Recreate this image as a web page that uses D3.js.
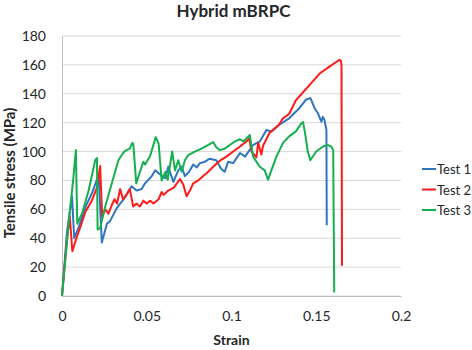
<!DOCTYPE html>
<html>
<head>
<meta charset="utf-8">
<script src="https://d3js.org/d3.v7.min.js"></script>
<style>
  body { margin: 0; background: #fff; }
  text { font-family: Lato, "Open Sans", sans-serif; fill: #262626; }
</style>
</head>
<body>
<div id="my_dataviz"></div>
<script>
// data
var seriesNames = ["Test 1", "Test 2", "Test 3"];
var seriesColors = ["#2e75c0", "#ff1a1a", "#14b04f"];
var xTicks = [0, 0.05, 0.1, 0.15, 0.2];
var yTicks = [0, 20, 40, 60, 80, 100, 120, 140, 160, 180];

var test1Strain = [0, 0.003, 0.0059, 0.0072, 0.010, 0.014, 0.018, 0.0216, 0.0235, 0.0265, 0.0284, 0.0324, 0.037, 0.039, 0.041, 0.044, 0.047, 0.049, 0.053, 0.055, 0.057, 0.059, 0.061, 0.0627, 0.0657, 0.0686, 0.0706, 0.0725, 0.075, 0.0774, 0.0795, 0.0814, 0.0843, 0.087, 0.091, 0.094, 0.096, 0.098, 0.101, 0.105, 0.108, 0.1127, 0.1167, 0.1206, 0.1235, 0.128, 0.134, 0.140, 0.144, 0.1466, 0.149, 0.151, 0.153, 0.1539, 0.1548, 0.156, 0.1562];
var test1Stress = [0, 45, 69, 40, 48, 62, 72, 84, 37, 50, 52, 61, 68, 72, 76, 73, 74, 78, 83, 87, 85, 83, 81.5, 89.5, 79, 87, 89.5, 83, 86, 91, 89, 92, 93, 95, 94, 88, 86, 93, 92, 99, 96.5, 104.5, 107, 115, 113.7, 118.4, 123, 130, 136, 137, 130, 126.5, 120.7, 124, 122, 115, 49];

var test2Strain = [0, 0.003, 0.0046, 0.0061, 0.0088, 0.0115, 0.0137, 0.0176, 0.0206, 0.0225, 0.0237, 0.0255, 0.0274, 0.0294, 0.031, 0.0325, 0.0343, 0.036, 0.038, 0.040, 0.042, 0.044, 0.046, 0.048, 0.050, 0.052, 0.054, 0.057, 0.0588, 0.060, 0.0627, 0.066, 0.0696, 0.0716, 0.0735, 0.0755, 0.0774, 0.0804, 0.0833, 0.0853, 0.0892, 0.093, 0.097, 0.101, 0.105, 0.1088, 0.1105, 0.1118, 0.1147, 0.1157, 0.1176, 0.1186, 0.1225, 0.128, 0.1304, 0.134, 0.138, 0.146, 0.152, 0.158, 0.1618, 0.1637, 0.1645, 0.1649, 0.1652];
var test2Stress = [0, 40, 55, 31, 41, 50, 58, 66, 75, 90, 55, 60, 57, 63, 67, 64, 74, 67, 70, 74, 62, 64, 62, 66, 64, 66, 64, 67, 72, 70, 73, 75, 81, 77, 69, 73, 78, 80, 83, 85, 89.5, 93.5, 96.5, 100, 103.5, 107, 109, 100, 96, 106, 98, 104, 113, 118.5, 123, 126, 135.5, 146, 154, 159, 162, 163.5, 163, 160, 21];

var test3Strain = [0, 0.0039, 0.0068, 0.0082, 0.009, 0.0118, 0.0157, 0.0196, 0.0206, 0.021, 0.0225, 0.0255, 0.0294, 0.0333, 0.036, 0.038, 0.040, 0.0415, 0.0421, 0.0438, 0.046, 0.048, 0.049, 0.052, 0.0553, 0.057, 0.0588, 0.061, 0.0624, 0.065, 0.0667, 0.0686, 0.0706, 0.0725, 0.0745, 0.0784, 0.0823, 0.0853, 0.0892, 0.091, 0.093, 0.096, 0.099, 0.102, 0.105, 0.107, 0.1108, 0.1127, 0.1147, 0.1167, 0.1196, 0.1216, 0.1235, 0.1265, 0.1304, 0.134, 0.138, 0.1412, 0.1422, 0.1435, 0.145, 0.1465, 0.150, 0.154, 0.157, 0.1588, 0.160, 0.1606];
var test3Stress = [0, 50, 83, 101, 50, 57, 73, 94, 95.5, 46, 47, 62, 78, 94, 99, 101, 102, 106, 105, 78, 86, 93, 91, 97, 110, 105.5, 80, 86, 80.5, 100, 87, 94, 86, 94, 97.5, 100, 102, 104, 106.5, 103, 101, 102, 104.5, 107, 108.5, 107, 111.5, 96.5, 93, 89.5, 87, 80.5, 87, 96.5, 106, 110.5, 114, 119.5, 120.5, 112, 100, 94, 100, 103.5, 104.5, 103.5, 101, 2.5];

var allStrain = [test1Strain, test2Strain, test3Strain];
var allStress = [test1Stress, test2Stress, test3Stress];

// set the dimensions and margins of the graph
var margin = {top: 36, right: 71, bottom: 54, left: 62},
    width = 472 - margin.left - margin.right,
    height = 350 - margin.top - margin.bottom;

var svg = d3.select("#my_dataviz")
  .append("svg")
    .attr("width", 472)
    .attr("height", 350)
  .append("g")
    .attr("transform", "translate(" + margin.left + "," + margin.top + ")");

var x = d3.scaleLinear()
  .domain([0, 0.2])
  .range([0, width]);

var y = d3.scaleLinear()
  .domain([0, 180])
  .range([height, 0]);

// gridlines
svg.append("g")
  .selectAll("line")
  .data(yTicks)
  .enter()
  .append("line")
    .attr("x1", 0)
    .attr("x2", width)
    .attr("y1", function(d) { return y(d) })
    .attr("y2", function(d) { return y(d) })
    .attr("stroke", "#d9d9d9")
    .attr("stroke-width", 1);

// Add X axis
var xAxis = svg.append("g")
  .attr("transform", "translate(0," + height + ")")
  .call(d3.axisBottom(x)
    .tickValues(xTicks)
    .tickSize(0)
    .tickPadding(15)
    .tickFormat(function(d) { return d3.format("")(+d.toFixed(2)) }));
xAxis.select(".domain").attr("stroke", "#bfbfbf");
xAxis.selectAll("text").style("font-size", "14px").style("font-family", "Lato").attr("fill", "#333");

// Add Y axis
var yAxis = svg.append("g")
  .call(d3.axisLeft(y)
    .tickValues(yTicks)
    .tickSize(0)
    .tickPadding(16));
yAxis.select(".domain").attr("stroke", "#bfbfbf");
yAxis.selectAll("text").style("font-size", "14px").style("font-family", "Lato").attr("fill", "#333");

// the lines
var line = d3.line()
  .x(function(d) { return x(d[0]) })
  .y(function(d) { return y(d[1]) });

seriesNames.forEach(function(name, i) {
  var pts = d3.zip(allStrain[i], allStress[i]);
  svg.append("path")
    .datum(pts)
    .attr("fill", "none")
    .attr("stroke", seriesColors[i])
    .attr("stroke-width", 2)
    .attr("stroke-linejoin", "round")
    .attr("d", line);
});

// title
svg.append("text")
  .attr("x", width / 2 + 2)
  .attr("y", -19)
  .attr("text-anchor", "middle")
  .style("font-size", "17px")
  .style("font-weight", "bold")
  .text("Hybrid mBRPC");

svg.append("text")
  .attr("x", width / 2)
  .attr("y", height + 49)
  .attr("text-anchor", "middle")
  .style("font-size", "14px")
  .style("font-weight", "bold")
  .text("Strain");

svg.append("text")
  .attr("transform", "rotate(-90)")
  .attr("x", -(height / 2) - 7)
  .attr("y", -47)
  .attr("text-anchor", "middle")
  .style("font-size", "15px")
  .style("font-weight", "bold")
  .text("Tensile stress (MPa)");

// legend
var legend = svg.append("g")
  .attr("transform", "translate(" + (width + 21) + "," + (133) + ")");
seriesNames.forEach(function(name, i) {
  legend.append("line")
    .attr("x1", 0)
    .attr("x2", 14)
    .attr("y1", i * 20.5)
    .attr("y2", i * 20.5)
    .attr("stroke", seriesColors[i])
    .attr("stroke-width", 2);
  legend.append("text")
    .attr("x", 15)
    .attr("y", i * 20.5 + 5)
    .style("font-size", "13px")
    .text(name);
});
</script>
</body>
</html>
